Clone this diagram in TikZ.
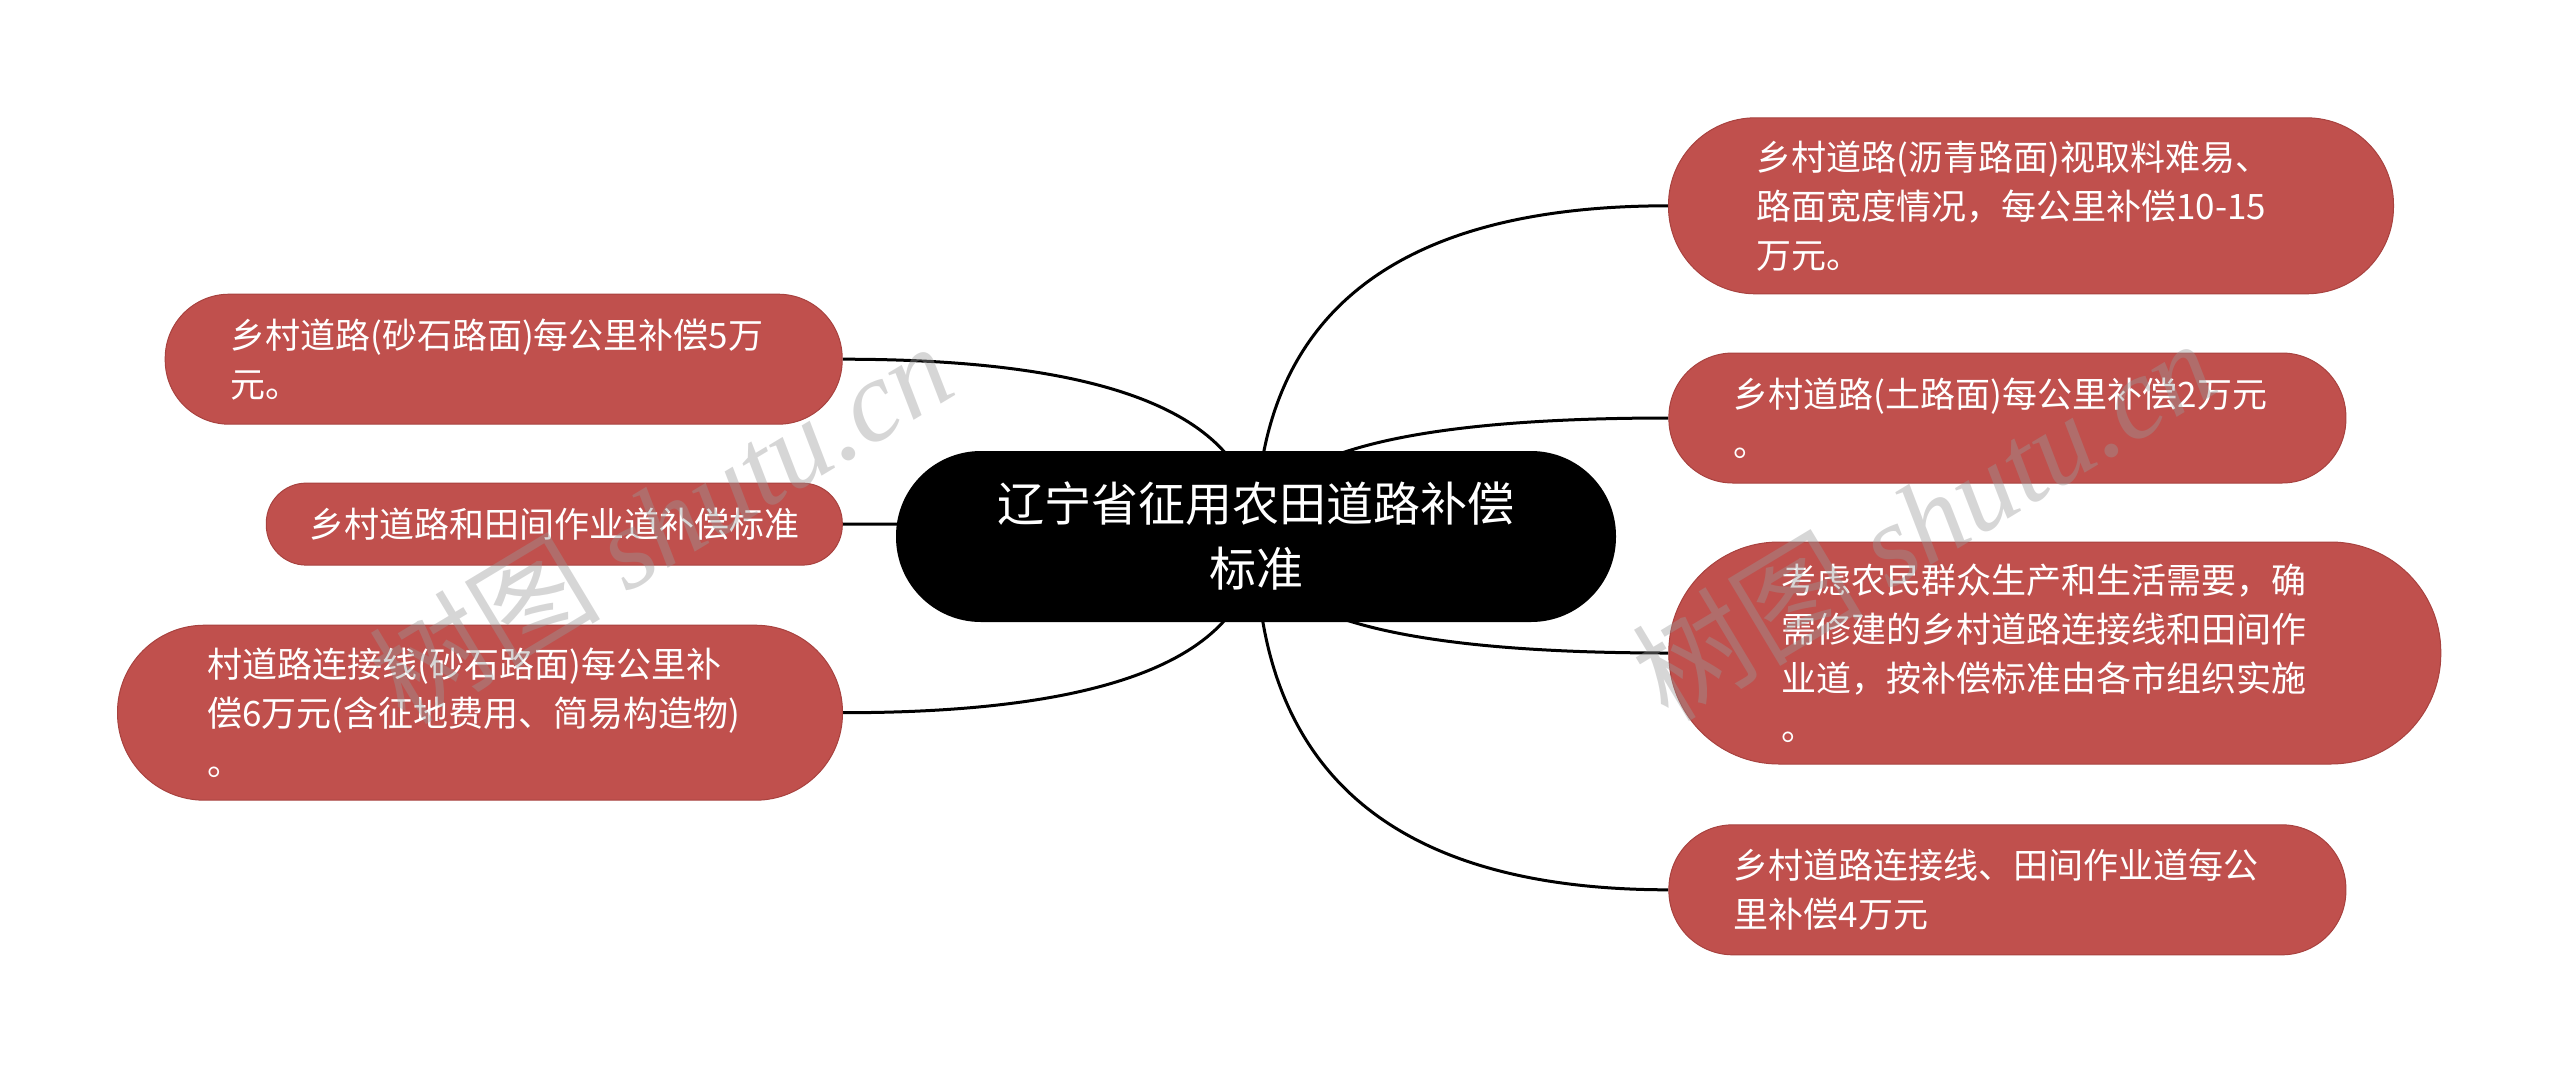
\documentclass[tikz,border=0pt]{standalone}
\usepackage{fontspec}
\setmainfont{Noto Sans CJK SC}
\newfontfamily\wmlatin{Liberation Serif}
\usetikzlibrary{calc,backgrounds}
\definecolor{boxred}{HTML}{C0504D}
\definecolor{boxedge}{HTML}{A8423F}
\tikzset{
  leaf/.style={fill=boxred, draw=boxedge, line width=1pt, text=white,
    font=\fontsize{35}{49}\selectfont, align=left, inner sep=0pt},
  root/.style={fill=black, text=white, font=\fontsize{47}{65}\selectfont,
    align=center, inner sep=0pt, minimum width=720pt, minimum height=171pt,
    rounded corners=85pt},
  link/.style={line width=3pt, black},
  wm/.style={text=black!40, opacity=0.4, font=\fontsize{116}{116}\selectfont, inner sep=0pt}
}
\begin{document}
\begin{tikzpicture}[x=1pt,y=-1pt]
\useasboundingbox (0,0) rectangle (2560,1072);
\node[root] (c) at (1256,536.5) {辽宁省征用农田道路补偿\\标准};
\node[leaf, minimum width=725pt, minimum height=176pt, rounded corners=87pt, text width=549pt] (r1) at (2031,205.8)
  {乡村道路(沥青路面)视取料难易、\\路面宽度情况，每公里补偿10-15\\万元。};
\node[leaf, minimum width=677pt, minimum height=130pt, rounded corners=64pt, text width=547pt] (r2) at (2007.4,418)
  {乡村道路(土路面)每公里补偿2万元\\。};
\node[leaf, minimum width=772pt, minimum height=222pt, rounded corners=110pt, text width=547pt] (r3) at (2054.8,653)
  {考虑农民群众生产和生活需要，确\\需修建的乡村道路连接线和田间作\\业道，按补偿标准由各市组织实施\\。};
\node[leaf, minimum width=677pt, minimum height=130pt, rounded corners=64pt, text width=547pt] (r4) at (2007.4,889.8)
  {乡村道路连接线、田间作业道每公\\里补偿4万元};
\node[leaf, minimum width=677pt, minimum height=130pt, rounded corners=64pt, text width=547pt] (l1) at (503.7,359.2)
  {乡村道路(砂石路面)每公里补偿5万\\元。};
\node[leaf, minimum width=576pt, minimum height=82pt, rounded corners=40pt, align=center] (l2) at (554.3,524.1)
  {乡村道路和田间作业道补偿标准};
\node[leaf, minimum width=725pt, minimum height=175pt, rounded corners=87pt, text width=545pt] (l3) at (480,712.7)
  {村道路连接线(砂石路面)每公里补\\偿6万元(含征地费用、简易构造物)\\。};
\begin{scope}[on background layer]
\foreach \n in {r1,r2,r3,r4} {
  \draw[link] (c.center) .. controls ($(c.center)!0.667!(c.center |- \n.west)$) and ($(\n.west)!0.667!(c.center |- \n.west)$) .. (\n.west);
}
\foreach \n in {l1,l2,l3} {
  \draw[link] (c.center) .. controls ($(c.center)!0.667!(c.center |- \n.east)$) and ($(\n.east)!0.667!(c.center |- \n.east)$) .. (\n.east);
}
\end{scope}
\node[wm, rotate=31] (w1) at (660,522) {树图 {\wmlatin\itshape shutu.cn}};
\node[wm, rotate=31] (w2) at (1923,519) {树图 {\wmlatin\itshape shutu.cn}};
\end{tikzpicture}
\end{document}
